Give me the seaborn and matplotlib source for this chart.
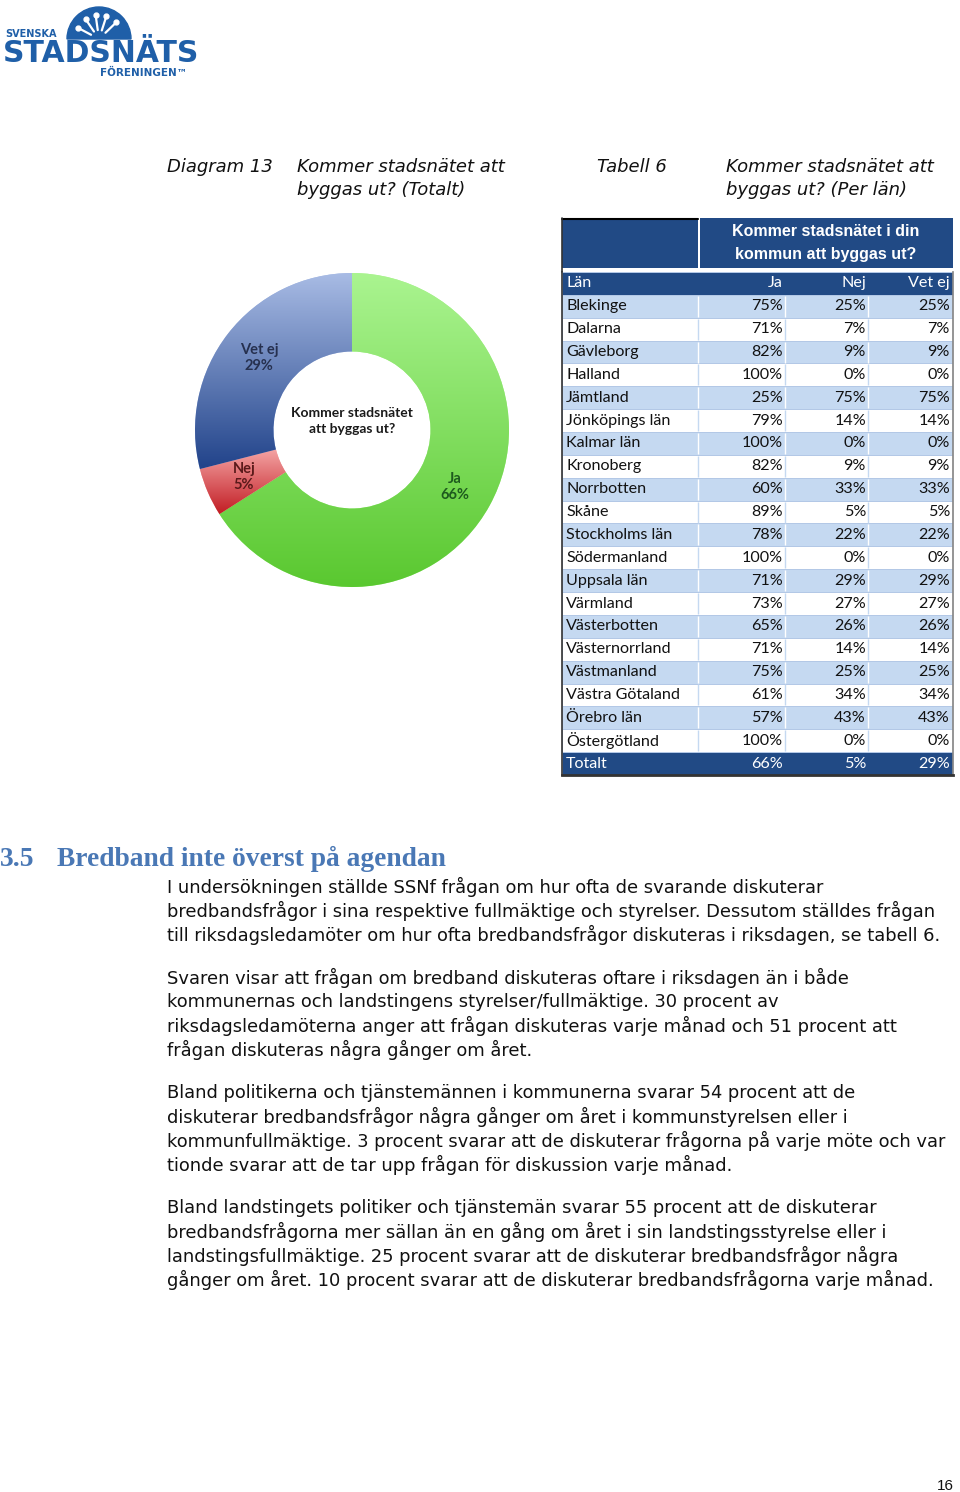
import numpy as np
import pandas as pd
import seaborn as sns
import matplotlib.pyplot as plt
from matplotlib.colors import ListedColormap, LinearSegmentedColormap
from matplotlib.patches import Rectangle, Wedge

# Diagram 13 - totals for the donut
answers = ['Ja', 'Nej', 'Vet ej']
total_share = [66, 5, 29]

# Tabell 6 - per län
lan = ['Blekinge', 'Dalarna', 'Gävleborg', 'Halland', 'Jämtland', 'Jönköpings län',
       'Kalmar län', 'Kronoberg', 'Norrbotten', 'Skåne', 'Stockholms län',
       'Södermanland', 'Uppsala län', 'Värmland', 'Västerbotten', 'Västernorrland',
       'Västmanland', 'Västra Götaland', 'Örebro län', 'Östergötland']
ja = [75, 71, 82, 100, 25, 79, 100, 82, 60, 89, 78, 100, 71, 73, 65, 71, 75, 61, 57, 100]
nej = [25, 7, 9, 0, 75, 14, 0, 9, 33, 5, 22, 0, 29, 27, 26, 14, 25, 34, 43, 0]
vet_ej = [25, 7, 9, 0, 75, 14, 0, 9, 33, 5, 22, 0, 29, 27, 26, 14, 25, 34, 43, 0]
totalt = [66, 5, 29]

paragraphs = [
    ['I undersökningen ställde SSNf frågan om hur ofta de svarande diskuterar',
     'bredbandsfrågor i sina respektive fullmäktige och styrelser. Dessutom ställdes frågan',
     'till riksdagsledamöter om hur ofta bredbandsfrågor diskuteras i riksdagen, se tabell 6.'],
    ['Svaren visar att frågan om bredband diskuteras oftare i riksdagen än i både',
     'kommunernas och landstingens styrelser/fullmäktige. 30 procent av',
     'riksdagsledamöterna anger att frågan diskuteras varje månad och 51 procent att',
     'frågan diskuteras några gånger om året.'],
    ['Bland politikerna och tjänstemännen i kommunerna svarar 54 procent att de',
     'diskuterar bredbandsfrågor några gånger om året i kommunstyrelsen eller i',
     'kommunfullmäktige. 3 procent svarar att de diskuterar frågorna på varje möte och var',
     'tionde svarar att de tar upp frågan för diskussion varje månad.'],
    ['Bland landstingets politiker och tjänstemän svarar 55 procent att de diskuterar',
     'bredbandsfrågorna mer sällan än en gång om året i sin landstingsstyrelse eller i',
     'landstingsfullmäktige. 25 procent svarar att de diskuterar bredbandsfrågor några',
     'gånger om året. 10 procent svarar att de diskuterar bredbandsfrågorna varje månad.'],
]

sns.set_theme(style='white')
plt.rcParams['font.family'] = ['DejaVu Sans']

W, H = 960, 1492
DARK = '#214a85'
LIGHT = '#c5d9f1'


def px_rect(x0, y0, x1, y1):
    return [x0 / W, 1 - y1 / H, (x1 - x0) / W, (y1 - y0) / H]


fig = plt.figure(figsize=(9.6, 14.92), dpi=100)
fig.patch.set_facecolor('white')

# page layer in pixel units (y down)
page = fig.add_axes([0, 0, 1, 1])
page.set_xlim(0, W)
page.set_ylim(H, 0)
page.axis('off')

# logo
logo_blue = '#1f5fa8'
page.add_patch(Wedge((99, 39), 32, 180, 360, color=logo_blue))
for a in [208, 236, 262, 288, 316]:
    t = np.deg2rad(a)
    x1, y1 = 99 + 9 * np.cos(t), 39 + 9 * np.sin(t)
    x2, y2 = 99 + 24 * np.cos(t), 39 + 24 * np.sin(t)
    page.plot([x1, x2], [y1, y2], color='white', lw=1.6, solid_capstyle='round')
    page.plot(x2, y2, 'o', color='white', ms=3.5)
page.text(5, 34, 'SVENSKA', color=logo_blue, fontsize=7, fontweight='bold', va='center', ha='left')
page.text(3, 53, 'STADSNÄTS', color=logo_blue, fontsize=21.5, fontweight='bold', va='center', ha='left')
page.text(100, 73, 'FÖRENINGEN™', color=logo_blue, fontsize=7.5, fontweight='bold', va='center', ha='left')

# captions
cap = dict(fontsize=13, style='italic', color='#111111', va='center', ha='left')
page.text(167, 167, 'Diagram 13', **cap)
page.text(297, 167, 'Kommer stadsnätet att', **cap)
page.text(297, 190, 'byggas ut? (Totalt)', **cap)
page.text(597, 167, 'Tabell 6', **cap)
page.text(726, 167, 'Kommer stadsnätet att', **cap)
page.text(726, 190, 'byggas ut? (Per län)', **cap)

# donut
ax_pie = fig.add_axes(px_rect(195, 273, 509, 587))
labels = [f'{a}\n{v}%' for a, v in zip(answers, total_share)]
wedges, texts = ax_pie.pie(total_share, labels=labels, startangle=90, counterclock=False,
                           radius=1, labeldistance=0.75,
                           wedgeprops=dict(width=0.5, edgecolor='none'),
                           textprops=dict(family='Lato', fontsize=10.5, fontweight='bold'))
grads = [('#5ac830', '#aaf490'), ('#c21d24', '#f4a4a4'), ('#21438a', '#a9bce5')]
label_colors = ['#1e5a1e', '#5a1a1a', '#26304f']
for w, (bot, top), t, lc in zip(wedges, grads, texts, label_colors):
    ext = w.get_path().get_extents()
    w.set_facecolor(top)
    cm = LinearSegmentedColormap.from_list('g', [bot, top])
    im = ax_pie.imshow(np.linspace(0, 1, 256).reshape(-1, 1), extent=[ext.x0, ext.x1, ext.y0, ext.y1],
                       origin='lower', cmap=cm, aspect='auto', zorder=w.get_zorder() + 0.1)
    im.set_clip_path(w)
    t.set_ha('center')
    t.set_va('center')
    t.set_color(lc)
    t.set_zorder(5)
ax_pie.text(0, 0.06, 'Kommer stadsnätet\natt byggas ut?', ha='center', va='center',
            family='Lato', fontsize=10, fontweight='bold', color='#1a1a1a', linespacing=1.4)
ax_pie.set_xlim(-1, 1)
ax_pie.set_ylim(-1, 1)
ax_pie.set_aspect('equal')
ax_pie.axis('off')

# table header block
page.add_patch(Rectangle((562, 218), 136, 50, color=DARK, lw=0))
page.add_patch(Rectangle((700, 218), 253, 50, color=DARK, lw=0))
page.plot([562, 698], [218.5, 218.5], color='black', lw=1.5)
page.plot([562, 562], [218, 272], color='#333333', lw=1.2)
hdr = dict(family='Liberation Sans', fontsize=11.5, fontweight='bold', color='white', ha='center', va='center')
page.text(826, 231, 'Kommer stadsnätet i din', **hdr)
page.text(826, 254, 'kommun att byggas ut?', **hdr)

# table body as a banded heatmap
rows = ['Län'] + lan + ['Totalt']
band = [2] + [1 if i % 2 == 0 else 0 for i in range(len(lan))] + [2]
df = pd.DataFrame({'band': band}, index=rows)
ax_t = fig.add_axes(px_rect(562, 272, 953, 775))
sns.heatmap(df, ax=ax_t, cmap=ListedColormap(['white', LIGHT, DARK]), vmin=-0.5, vmax=2.5,
            cbar=False, linewidths=0.6, linecolor='#b3c8e6', xticklabels=False, yticklabels=False)


def fx(x):
    return (x - 562) / 391


col_edges = [698, 785, 868]
num_right = [783, 866, 950]
cells = [['Ja', 'Nej', 'Vet ej']]
cells += [[f'{a}%', f'{b}%', f'{c}%'] for a, b, c in zip(ja, nej, vet_ej)]
cells += [[f'{v}%' for v in totalt]]
tfont = dict(family='Lato', fontsize=11.6, va='center')
for i, (name, b, vals) in enumerate(zip(rows, band, cells)):
    if b == 0:
        ax_t.vlines([fx(x) for x in col_edges], i + 0.04, i + 0.96, colors=LIGHT, lw=1)
    elif b == 1:
        ax_t.vlines([fx(x) for x in col_edges], i + 0.04, i + 0.96, colors='white', lw=1)
    col = 'white' if b == 2 else '#111111'
    ax_t.text(fx(566), i + 0.5, name, ha='left', color=col, **tfont)
    for xr, v in zip(num_right, vals):
        ax_t.text(fx(xr), i + 0.5, v, ha='right', color=col, **tfont)
for s in ['left', 'bottom', 'right', 'top']:
    ax_t.spines[s].set_visible(True)
ax_t.spines['left'].set_color('#333333')
ax_t.spines['left'].set_linewidth(1.2)
ax_t.spines['bottom'].set_color('#333333')
ax_t.spines['bottom'].set_linewidth(2)
ax_t.spines['right'].set_color('#888888')
ax_t.spines['top'].set_visible(False)

# section heading
head = dict(family='Liberation Serif', fontsize=19.8, fontweight='bold', color='#4a78b5', va='center', ha='left')
page.text(0, 859, '3.5', **head)
page.text(57, 859, 'Bredband inte överst på agendan', **head)

# body text
y = 887
for para in paragraphs:
    for line in para:
        page.text(167, y, line, fontsize=12.9, color='#111111', va='center', ha='left')
        y += 24
    y += 19

page.text(954, 1486, '16', family='Liberation Sans', fontsize=11, color='#111111', ha='right', va='center')

fig.savefig('out.png', dpi=100, facecolor='white')
